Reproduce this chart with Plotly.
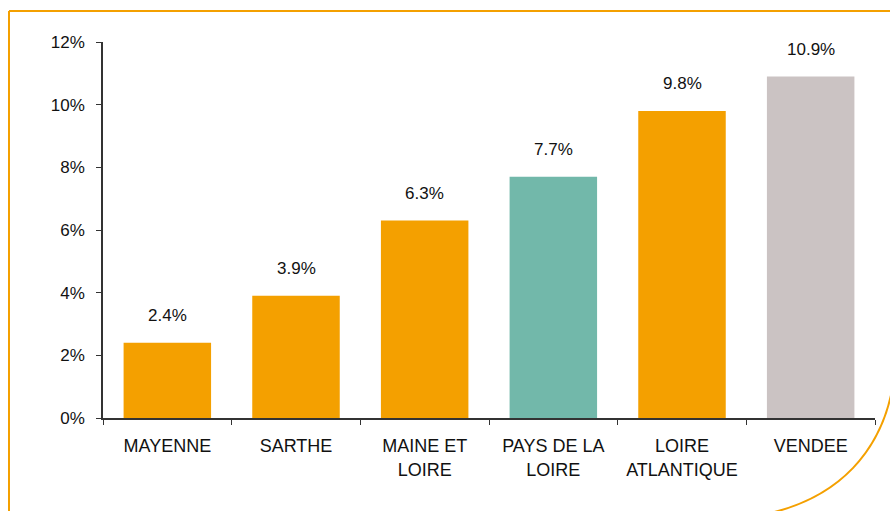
import plotly.graph_objects as go

categories = ["MAYENNE", "SARTHE", "MAINE ET<br>LOIRE", "PAYS DE LA<br>LOIRE", "LOIRE<br>ATLANTIQUE", "VENDEE"]
values = [0.024, 0.039, 0.063, 0.077, 0.098, 0.109]
bar_colors = ["#F4A000", "#F4A000", "#F4A000", "#72B8AA", "#F4A000", "#CBC3C3"]
y_ticks = [0, 0.02, 0.04, 0.06, 0.08, 0.10, 0.12]

W, H = 890, 511
L, R, T, B = 103, 15, 42, 93
pw, ph = W - L - R, H - T - B

def px(x):
    return (x - L) / pw

def py(y):
    return (H - B - y) / ph

fig = go.Figure()
fig.add_trace(go.Bar(x=categories, y=values, marker=dict(color=bar_colors, line=dict(width=0)),
                     width=0.68, hoverinfo="skip"))

for c, v in zip(categories, values):
    fig.add_annotation(x=c, y=v, text=f"{v*100:.1f}%", showarrow=False, yshift=27,
                       font=dict(family="Liberation Sans, Arial", size=17, color="#111111"))

frame_color = "#F4A000"
shapes = [
    dict(type="line", xref="paper", yref="paper", x0=px(9), y0=py(11), x1=px(9), y1=py(515),
         line=dict(color=frame_color, width=2)),
    dict(type="line", xref="paper", yref="paper", x0=px(9), y0=py(11), x1=px(895), y1=py(11),
         line=dict(color=frame_color, width=2)),
    dict(type="path", xref="paper", yref="paper",
         path=f"M {px(893)},{py(385)} C {px(882)},{py(450)} {px(840)},{py(498)} {px(766)},{py(514)}",
         line=dict(color=frame_color, width=2)),
]

fig.update_layout(
    width=W, height=H,
    margin=dict(l=L, r=R, t=T, b=B),
    paper_bgcolor="white", plot_bgcolor="white",
    showlegend=False,
    shapes=shapes,
    font=dict(family="Liberation Sans, Arial", size=17, color="#111111"),
    xaxis=dict(showline=True, linecolor="#333333", linewidth=1.5, ticks="outside",
               tickson="boundaries", ticklen=5, tickcolor="#333333", showgrid=False,
               tickfont=dict(size=18), ticklabelstandoff=11, fixedrange=True),
    yaxis=dict(range=[0, 0.12], tickvals=y_ticks, tickformat=".0%", showline=True,
               linecolor="#333333", linewidth=1.5, ticks="outside", ticklen=5,
               tickcolor="#333333", showgrid=False, zeroline=False,
               tickfont=dict(size=17), ticklabelstandoff=8, fixedrange=True),
)

fig.write_html("out.html", config={"displayModeBar": False},
               post_script="document.body.style.margin='0';document.body.style.overflow='hidden';")
